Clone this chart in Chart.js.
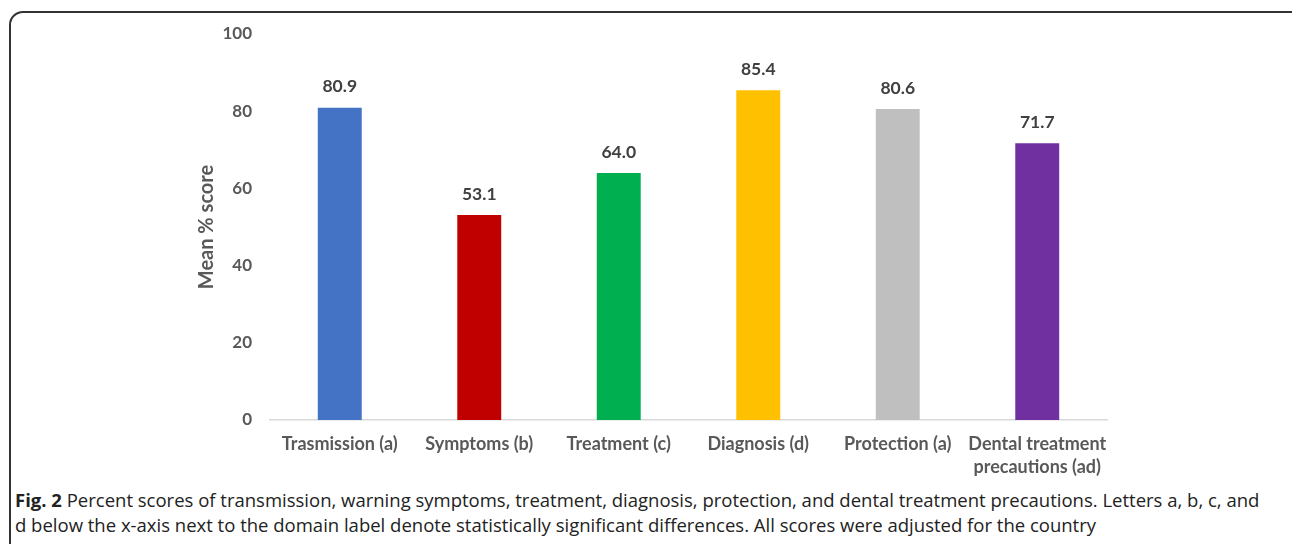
<!DOCTYPE html>
<html>
<head>
<meta charset="utf-8">
<script src="https://cdn.jsdelivr.net/npm/chart.js@4.4.1/dist/chart.umd.min.js"></script>
<style>
  body { margin: 0; background: #fff; width: 1292px; height: 544px; overflow: hidden; position: relative; }
  #frame { position: absolute; left: 9px; top: 11px; width: 1310px; height: 560px; border: 2px solid #333; border-radius: 14px; }
  #wrap { position: absolute; left: 0; top: 0; width: 1292px; height: 480px; }
  #caption { position: absolute; left: 15px; top: 487px; width: 1270px; font-family: "Open Sans", sans-serif; font-size: 18.5px; line-height: 25px; color: #222; white-space: nowrap; }
</style>
</head>
<body>
<div id="frame"></div>
<div id="wrap"><canvas id="mybargraph"></canvas></div>
<div id="caption"><b>Fig. 2</b> Percent scores of transmission, warning symptoms, treatment, diagnosis, protection, and dental treatment precautions. Letters a, b, c, and<br>d below the x-axis next to the domain label denote statistically significant differences. All scores were adjusted for the country</div>
<script>
const categories = ['Trasmission (a)', 'Symptoms (b)', 'Treatment (c)', 'Diagnosis (d)', 'Protection (a)', ['Dental treatment', 'precautions (ad)']]
const meanScores = [80.9, 53.1, 64.0, 85.4, 80.6, 71.7]
const barColors = ['#4472C4', '#C00000', '#00B050', '#FFC000', '#BFBFBF', '#7030A0']
const yTicks = [0, 20, 40, 60, 80, 100]

// value labels above each bar
const valueLabels = {
    id: 'valueLabels',
    afterDatasetsDraw(chart) {
        const ctx = chart.ctx
        const meta = chart.getDatasetMeta(0)
        ctx.save()
        ctx.font = 'bold 17.5px Lato, sans-serif'
        ctx.fillStyle = '#404040'
        ctx.textAlign = 'center'
        ctx.textBaseline = 'middle'
        meta.data.forEach(function(bar, i) {
            ctx.fillText(meanScores[i].toFixed(1), bar.x, bar.y - 21)
        })
        ctx.restore()
    }
}

const canvasforbargraph = document.getElementById('mybargraph')
new Chart(canvasforbargraph, {
    type: 'bar',
    data: {
        labels: categories,
        datasets: [{
            label: 'Mean % score',
            data: meanScores,
            backgroundColor: barColors,
            categoryPercentage: 1,
            barPercentage: 0.315
        }]
    },
    options: {
        responsive: true,
        maintainAspectRatio: false,
        animation: false,
        layout: { padding: { left: 195, right: 185, top: 34, bottom: 0 } },
        plugins: { legend: { display: false }, tooltip: { enabled: false } },
        scales: {
            x: {
                afterFit: function(scale) { scale.height = 60 },
                grid: { display: false, drawTicks: false },
                border: { color: '#d9d9d9', width: 1.5 },
                ticks: {
                    padding: 12,
                    color: '#595959',
                    font: { family: 'Lato, sans-serif', size: 18, weight: 'bold', lineHeight: 1.3 },
                    maxRotation: 0,
                    autoSkip: false
                }
            },
            y: {
                min: 0,
                max: 100,
                afterFit: function(scale) { scale.width = 75 },
                afterBuildTicks: function(scale) { scale.ticks = yTicks.map(function(v) { return { value: v } }) },
                grid: { display: false, drawTicks: false },
                border: { display: false },
                ticks: {
                    padding: 18,
                    color: '#595959',
                    font: { family: 'Lato, sans-serif', size: 17, weight: 'bold' }
                },
                title: {
                    display: true,
                    text: 'Mean % score',
                    color: '#595959',
                    padding: 0,
                    font: { family: 'Lato, sans-serif', size: 20, weight: 'bold' }
                }
            }
        }
    },
    plugins: [valueLabels]
})
</script>
</body>
</html>
